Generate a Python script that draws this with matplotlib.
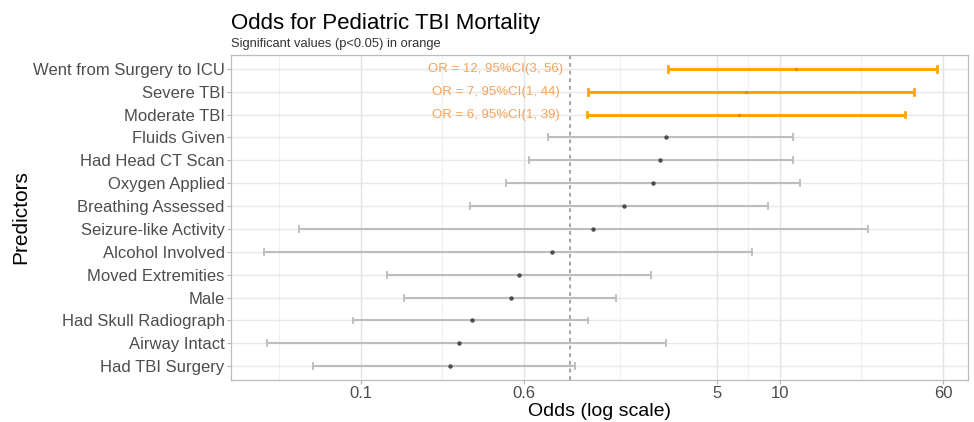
import matplotlib
matplotlib.use("Agg")
import matplotlib.pyplot as plt
import numpy as np

plt.rcParams['font.family'] = ['Liberation Sans', 'DejaVu Sans']

predictors = ["Went from Surgery to ICU", "Severe TBI", "Moderate TBI", "Fluids Given",
              "Had Head CT Scan", "Oxygen Applied", "Breathing Assessed",
              "Seizure-like Activity", "Alcohol Involved", "Moved Extremities", "Male",
              "Had Skull Radiograph", "Airway Intact", "Had TBI Surgery"]
odds = [12.0, 6.9, 6.4, 2.88, 2.68, 2.47, 1.81, 1.29, 0.815, 0.571, 0.52, 0.341, 0.294, 0.267]
ci_low = [2.93, 1.22, 1.20, 0.78, 0.637, 0.494, 0.332, 0.051, 0.0347, 0.133, 0.161, 0.0922, 0.0356, 0.0594]
ci_high = [56.3, 43.7, 39.5, 11.5, 11.5, 12.46, 8.8, 26.4, 7.36, 2.43, 1.646, 1.22, 2.88, 1.06]
significant = [True, True, True, False, False, False, False, False, False, False, False, False, False, False]
or_labels = ["OR = 12, 95%CI(3, 56)", "OR = 7, 95%CI(1, 44)", "OR = 6, 95%CI(1, 39)"]
label_x = 0.44

x_breaks = [0.1, 0.6, 5, 10, 60]
x_break_labels = ["0.1", "0.6", "5", "10", "60"]

fig = plt.figure(figsize=(9.74, 4.22), dpi=100)
ax = fig.add_axes([231/974, 1-380/422, (968-231)/974, (380-55)/422])

n = len(predictors)
ypos = np.arange(n)[::-1]

# grid
lb = np.log10(x_breaks)
minor = [lb[0] - (lb[1]-lb[0])/2] + [(lb[i]+lb[i+1])/2 for i in range(len(lb)-1)]
for m in minor:
    ax.axvline(10**m, color='#F0F0F0', lw=0.8, zorder=0)
for b in x_breaks:
    ax.axvline(b, color='#E3E3E3', lw=1.0, zorder=0)
for y in ypos:
    ax.axhline(y, color='#E8E8E8', lw=1.0, zorder=0)

ax.axvline(1, color='#8A8A8A', lw=1.1, ls=(0, (2.5, 2.5)), zorder=1)

for i in range(n):
    y = ypos[i]
    if significant[i]:
        col, lw, pc, ms = '#FFA500', 2.2, '#E08E00', 2.5
    else:
        col, lw, pc, ms = '#BDBDBD', 1.5, '#4D4D4D', 3.2
    ax.plot([ci_low[i], ci_high[i]], [y, y], color=col, lw=lw, solid_capstyle='butt', zorder=2)
    for xe in (ci_low[i], ci_high[i]):
        ax.plot([xe, xe], [y-0.13, y+0.13], color=col, lw=lw*0.9, zorder=2)
    ax.plot([odds[i]], [y], marker='o', ms=ms, color=pc, mew=0, zorder=3)

for k, lab in enumerate(or_labels):
    ax.text(label_x, ypos[k], lab, ha='center', va='center', color='#F7A25A', fontsize=9.5)

ax.set_xscale('log')
ax.set_xlim(0.0241, 79)
ax.set_ylim(-0.6, n-1+0.6)
ax.set_xticks(x_breaks)
ax.set_xticklabels(x_break_labels)
ax.xaxis.set_minor_locator(matplotlib.ticker.NullLocator())
ax.set_yticks(ypos)
ax.set_yticklabels(predictors)
ax.tick_params(axis='both', colors='#B3B3B3', length=3, width=0.8, labelsize=12, labelcolor='#4D4D4D', pad=1.5)
for s in ax.spines.values():
    s.set_color('#BDBDBD')
    s.set_linewidth(0.9)

ax.set_xlabel("Odds (log scale)", fontsize=14, color='black', labelpad=1)
ax.set_ylabel("Predictors", fontsize=15, color='black', labelpad=2)

fig.text(231/974, 1-24/422, "Odds for Pediatric TBI Mortality", fontsize=16, ha='left', va='center', color='black')
fig.text(231/974, 1-44/422, "Significant values (p<0.05) in orange", fontsize=9.3, ha='left', va='center', color='#333333')

fig.savefig("out.png", dpi=100)
